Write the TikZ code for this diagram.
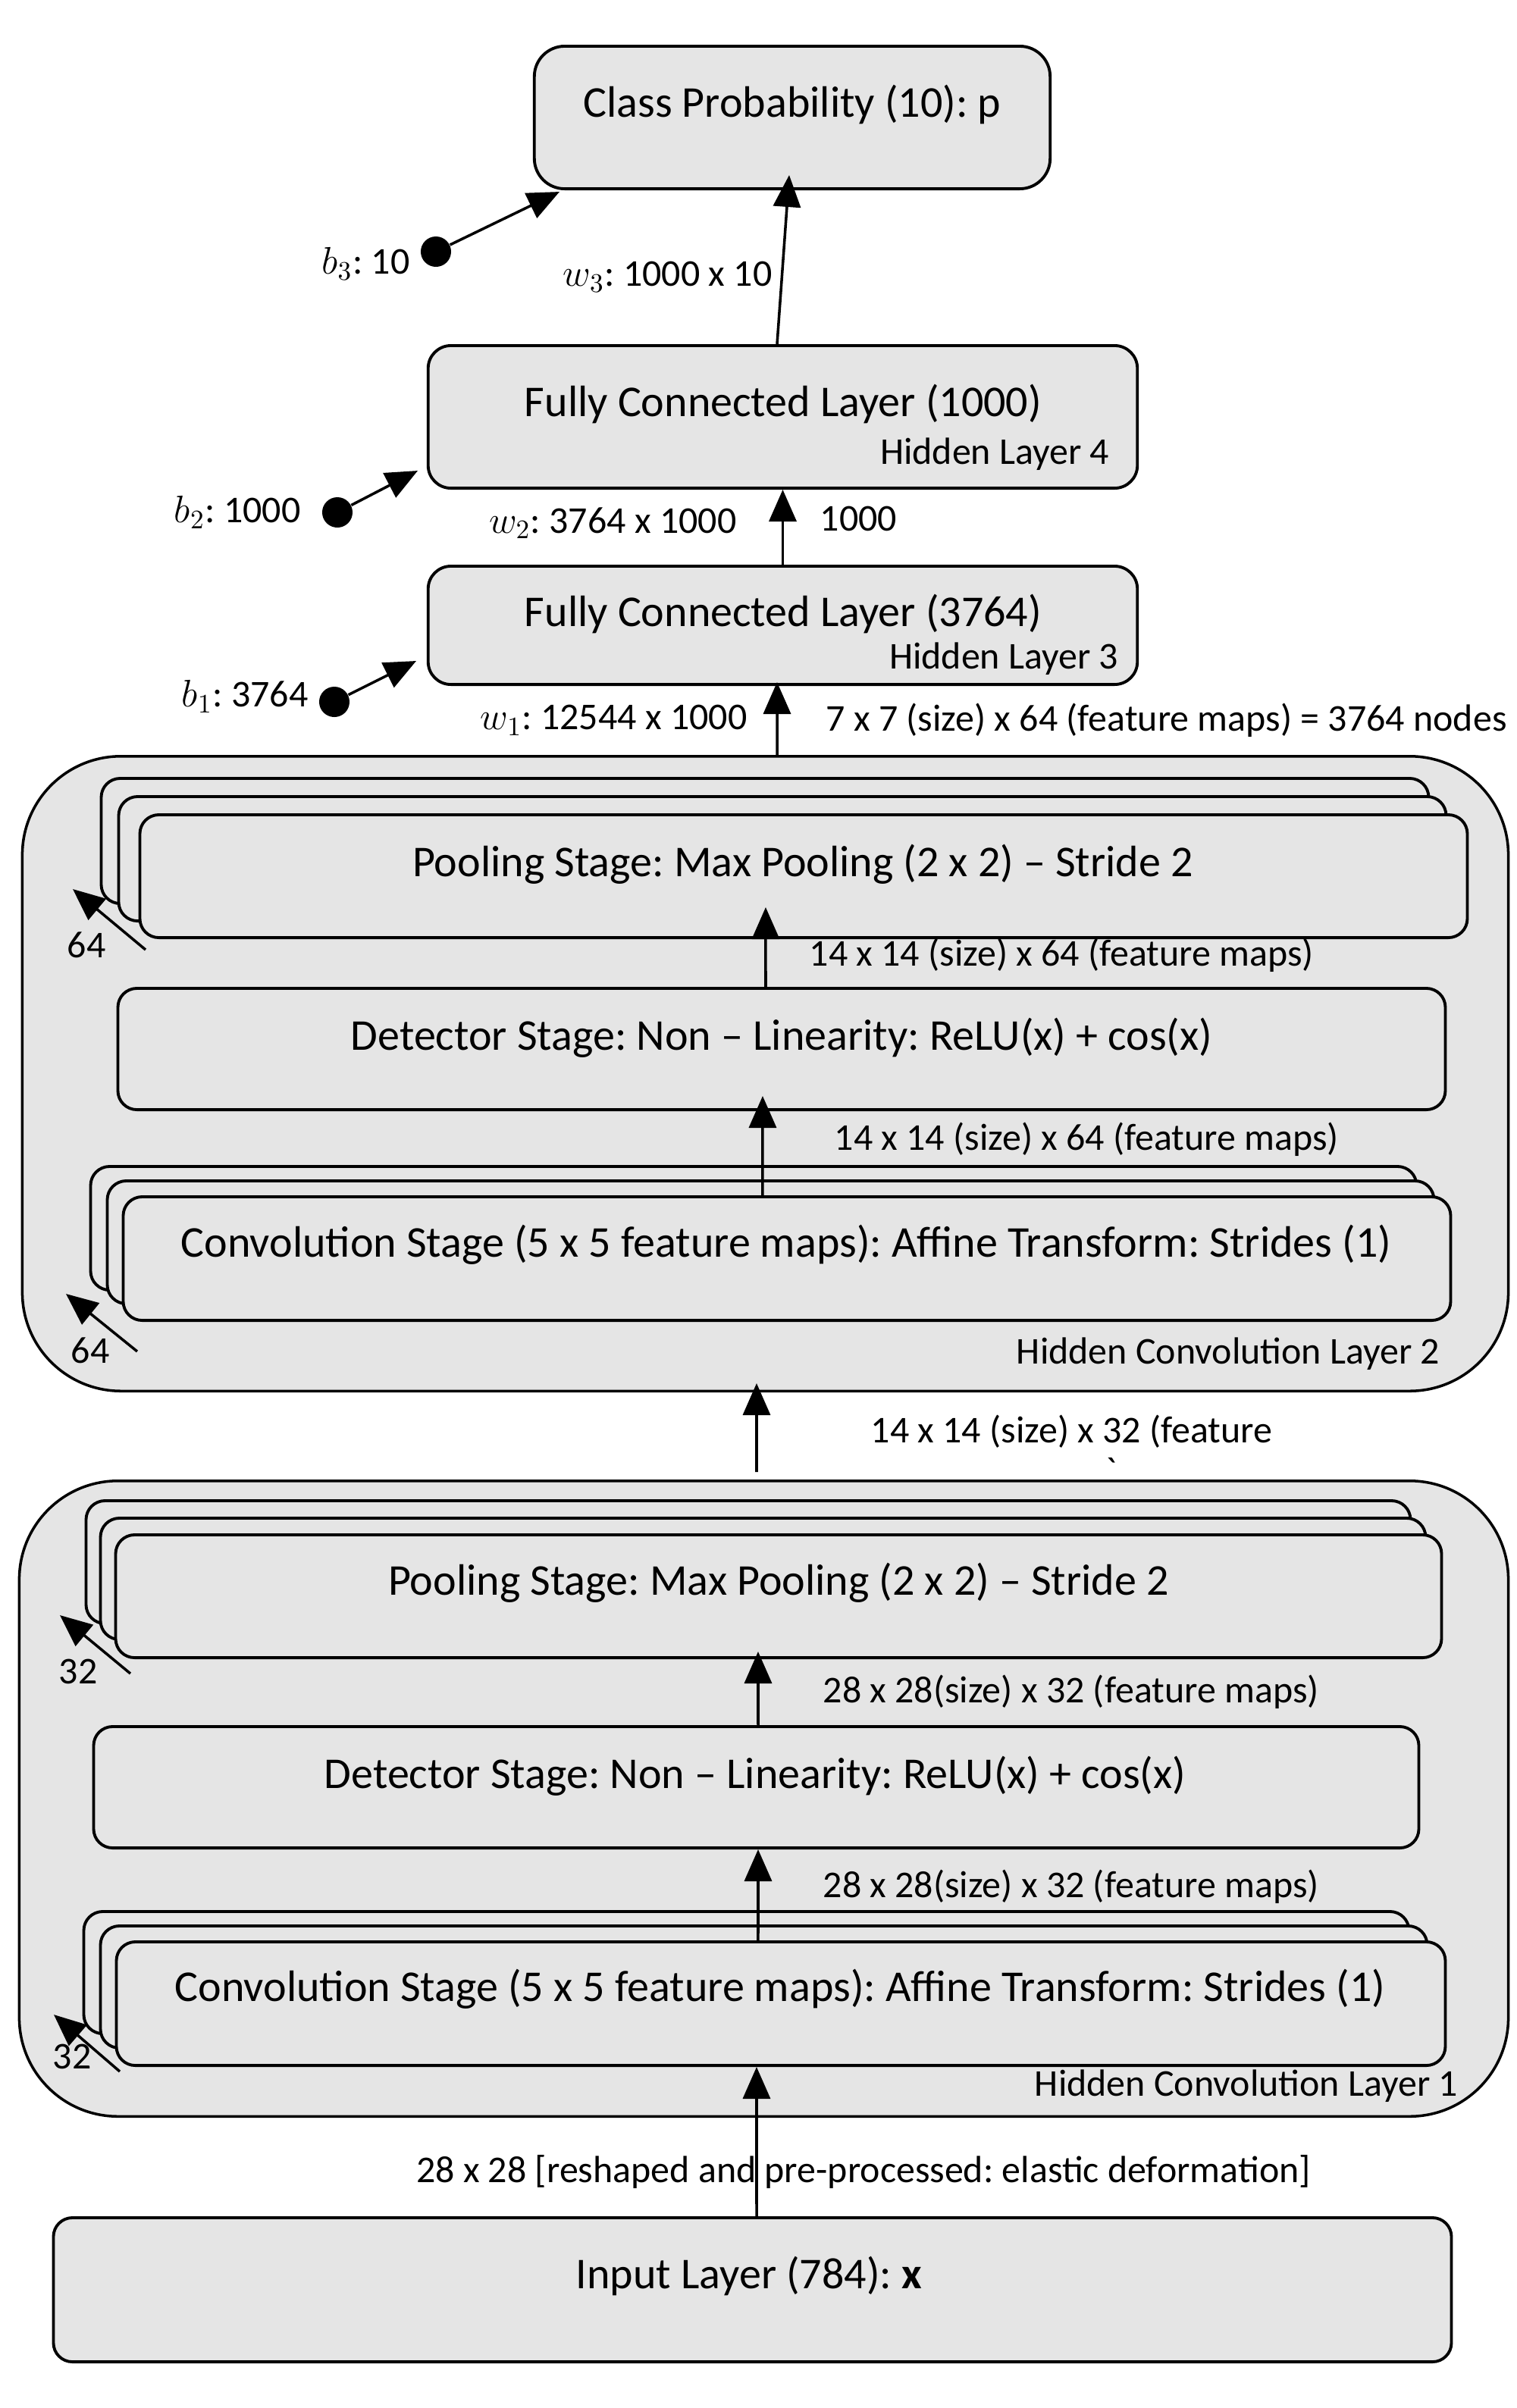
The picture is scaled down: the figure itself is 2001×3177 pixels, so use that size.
\documentclass[tikz,border=0pt]{standalone}
\usepackage{fontspec}
\setmainfont{Carlito}
\usetikzlibrary{arrows.meta}
\definecolor{boxgray}{RGB}{229,229,229}
\frenchspacing
\begin{document}
\frenchspacing
\begin{tikzpicture}[x=0.01cm,y=-0.01cm,
  box/.style={draw, line width=1.1pt, fill=boxgray, rounded corners=0.25cm, inner sep=0pt},
  fcbox/.style={box, rounded corners=0.3cm},
  outerbox/.style={box, line width=1pt, rounded corners=1.3cm},
  maintxt/.style={inner sep=0pt, font=\fontsize{16.5}{20}\selectfont},
  lbl/.style={inner sep=0pt, font=\fontsize{14.2}{17}\selectfont},
  arr/.style={line width=1pt, -{Triangle[length=0.42cm,width=0.36cm]}},
  dot/.style={circle, fill=black, inner sep=0pt, minimum size=0.4cm}
]
\useasboundingbox (0,0) rectangle (2001,3177);

% ---------- top fully connected part ----------
\node[fcbox, rounded corners=0.4cm, minimum width=6.8cm, minimum height=1.88cm] (cls) at (1045,155) {};
\node[maintxt] (clstxt) at (1045,138) {Class Probability (10): p};

\node[fcbox, minimum width=9.35cm, minimum height=1.88cm] (fc4) at (1032.5,550) {};
\node[maintxt] (fc4txt) at (1033,533) {Fully Connected Layer (1000)};
\node[lbl, anchor=east] (fc4sub) at (1464,599) {Hidden Layer 4};

\node[fcbox, minimum width=9.35cm, minimum height=1.56cm] (fc3) at (1032.5,825) {};
\node[maintxt] (fc3txt) at (1033,810) {Fully Connected Layer (3764)};
\node[lbl, anchor=east] (fc3sub) at (1476,869) {Hidden Layer 3};

% biases
\node[dot] (b3dot) at (575,332) {};
\coordinate (b3tip) at (738,253);
\node[lbl, anchor=east] (b3lbl) at (541,348) {\(b_3\): 10};
\node[dot] (b2dot) at (445,676) {};
\coordinate (b2tip) at (551,621);
\node[lbl, anchor=east] (b2lbl) at (397,676) {\(b_2\): 1000};
\node[dot] (b1dot) at (441,926) {};
\coordinate (b1tip) at (549,872);
\node[lbl, anchor=east] (b1lbl) at (407,919) {\(b_1\): 3764};

\node[lbl, anchor=east] (w3lbl) at (1019,365) {\(w_3\): 1000 x 10};
\node[lbl, anchor=east] (w2lbl) at (972,690) {\(w_2\): 3764 x 1000};
\node[lbl, anchor=west] (n1000) at (1081,684) {1000};
\node[lbl, anchor=east] (w1lbl) at (986,950) {\(w_1\): 12544 x 1000};
\node[lbl, anchor=west] (n3764) at (1089,950) {7 x 7 (size) x 64 (feature maps) = 3764 nodes};

% ---------- hidden convolution layer 2 ----------
\node[outerbox, minimum width=19.59cm, minimum height=8.37cm] (outer2) at (1009.5,1416.5) {};
\node[lbl, anchor=east] (outer2lbl) at (1900,1786) {Hidden Convolution Layer 2};

\node[box, minimum width=17.5cm, minimum height=1.65cm] (pool2b) at (1009,1109.5) {};
\node[box, minimum width=17.5cm, minimum height=1.64cm] (pool2m) at (1032,1133) {};
\node[box, minimum width=17.5cm, minimum height=1.62cm] (pool2f) at (1060,1156) {};
\node[maintxt] (pool2txt) at (1059,1140) {Pooling Stage: Max Pooling (2 x 2) – Stride 2};
\coordinate (p2tail) at (192,1253);
\coordinate (p2tip) at (96,1173);
\node[lbl] (p2n) at (114,1247) {64};

\node[box, minimum width=17.5cm, minimum height=1.6cm] (det2) at (1031,1384) {};
\node[maintxt] (det2txt) at (1031,1369) {Detector Stage: Non – Linearity: ReLU(x) + cos(x)};
\node[lbl, anchor=west] (l2a) at (1067,1260) {14 x 14 (size) x 64 (feature maps)};

\node[box, minimum width=17.48cm, minimum height=1.63cm] (conv2b) at (994,1620.5) {};
\node[box, minimum width=17.49cm, minimum height=1.62cm] (conv2m) at (1016.5,1639) {};
\node[box, minimum width=17.5cm, minimum height=1.63cm] (conv2f) at (1038,1660.5) {};
\node[maintxt] (conv2txt) at (1037,1642) {Convolution Stage (5 x 5 feature maps): Affine Transform: Strides (1)};
\node[lbl, anchor=west] (l2b) at (1100,1503) {14 x 14 (size) x 64 (feature maps)};
\coordinate (c2tail) at (181,1783);
\coordinate (c2tip) at (87,1707);
\node[lbl] (c2n) at (119,1782) {64};

\node[lbl, anchor=west] (l12) at (1148,1889) {14 x 14 (size) x 32 (feature};
\node[lbl] (tick) at (1466,1940) {\textasciigrave};

% ---------- hidden convolution layer 1 ----------
\node[outerbox, minimum width=19.63cm, minimum height=8.38cm] (outer1) at (1007.5,2373) {};
\node[lbl, anchor=east] (outer1lbl) at (1924,2752) {Hidden Convolution Layer 1};

\node[box, minimum width=17.46cm, minimum height=1.62cm] (pool1b) at (987,2061) {};
\node[box, minimum width=17.47cm, minimum height=1.6cm] (pool1m) at (1006.5,2083) {};
\node[box, minimum width=17.48cm, minimum height=1.62cm] (pool1f) at (1027,2106) {};
\node[maintxt] (pool1txt) at (1027,2088) {Pooling Stage: Max Pooling (2 x 2) – Stride 2};
\coordinate (p1tail) at (172,2208);
\coordinate (p1tip) at (79,2131);
\node[lbl] (p1n) at (103,2205) {32};

\node[box, minimum width=17.47cm, minimum height=1.6cm] (det1) at (997.5,2358) {};
\node[maintxt] (det1txt) at (996,2343) {Detector Stage: Non – Linearity: ReLU(x) + cos(x)};
\node[lbl, anchor=west] (l1a) at (1085,2232) {28 x 28(size) x 32 (feature maps)};

\node[box, minimum width=17.47cm, minimum height=1.61cm] (conv1b) at (984.5,2602.5) {};
\node[box, minimum width=17.49cm, minimum height=1.61cm] (conv1m) at (1007.5,2621.5) {};
\node[box, minimum width=17.52cm, minimum height=1.63cm] (conv1f) at (1030,2643.5) {};
\node[maintxt] (conv1txt) at (1029,2624) {Convolution Stage (5 x 5 feature maps): Affine Transform: Strides (1)};
\node[lbl, anchor=west] (l1b) at (1085,2489) {28 x 28(size) x 32 (feature maps)};
\coordinate (c1tail) at (158,2733);
\coordinate (c1tip) at (71,2658);
\node[lbl] (c1n) at (95,2713) {32};

% ---------- input ----------
\node[box, minimum width=18.43cm, minimum height=1.9cm] (input) at (992.5,3021) {};
\node[maintxt] (inputtxt) at (988,3003) {Input Layer (784): \textbf{x}};
\node[lbl] (inlbl) at (1139,2865) {28 x 28 [reshaped and pre-processed: elastic deformation]};

% ---------- connectors ----------
\draw[arr] ([xshift=-0.075cm]fc4.north) -- ([xshift=-0.04cm,yshift=0.2cm]cls.south);
\draw[arr] (b3dot) -- (b3tip);
\draw[arr] (fc3.north) -- (fc4.south);
\draw[arr] (b2dot) -- (b2tip);
\draw[arr] ([xshift=0.155cm]outer2.north) -- ([xshift=-0.075cm,yshift=0.05cm]fc3.south);
\draw[arr] (b1dot) -- (b1tip);

\draw[arr] ([xshift=-0.21cm]det2.north) -- ([xshift=-0.5cm,yshift=0.42cm]pool2f.south);
\draw[arr] (p2tail) -- (p2tip);
\draw[arr] ([xshift=-0.32cm]conv2f.north) -- ([xshift=-0.25cm,yshift=0.2cm]det2.south);
\draw[arr] (c2tail) -- (c2tip);
\draw[arr] ([xshift=-0.095cm,yshift=0.1cm]outer1.north) -- ([xshift=-0.115cm,yshift=0.12cm]outer2.south);

\draw[arr] ([xshift=0.025cm]det1.north) -- ([xshift=-0.27cm,yshift=0.1cm]pool1f.south);
\draw[arr] (p1tail) -- (p1tip);
\draw[arr] ([xshift=-0.3cm]conv1f.north) -- ([xshift=0.025cm]det1.south);
\draw[arr] (c1tail) -- (c1tip);
\draw[arr] ([xshift=0.055cm]input.north) -- ([xshift=-0.32cm]conv1f.south);
\end{tikzpicture}
\end{document}
